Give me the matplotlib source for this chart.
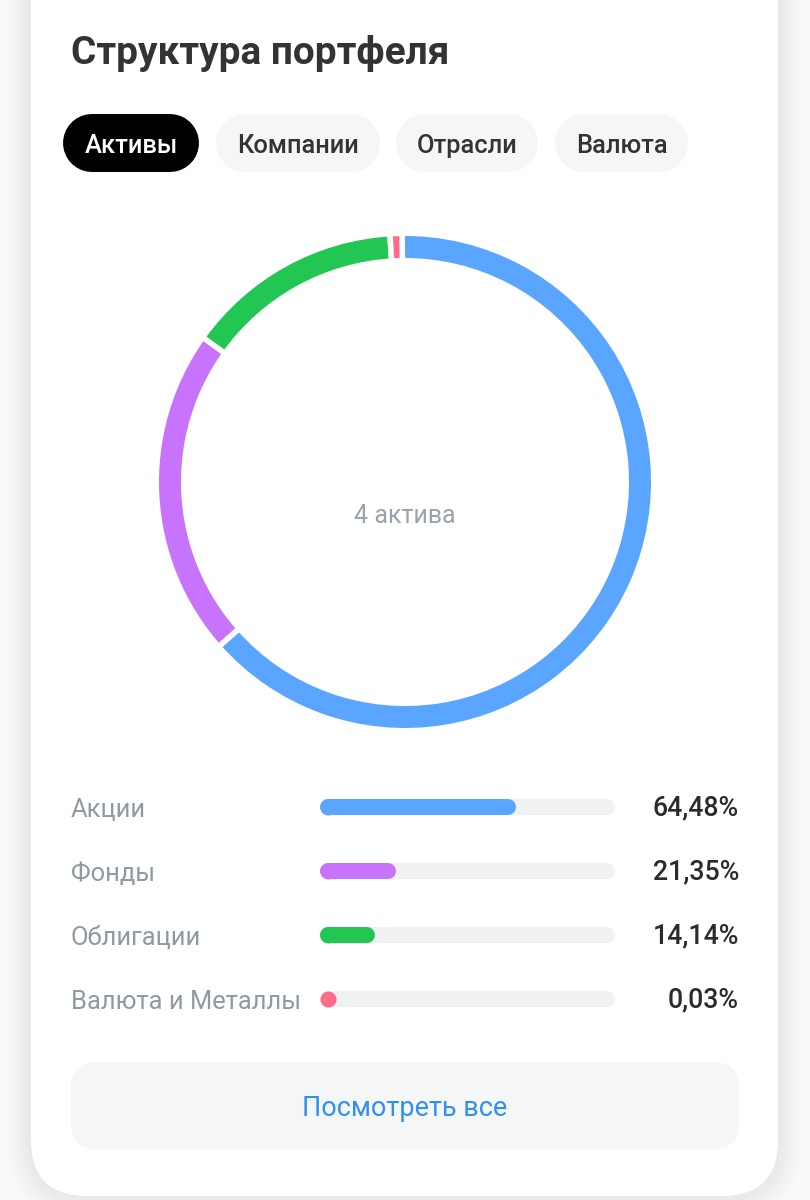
import matplotlib
matplotlib.use("Agg")
import matplotlib.pyplot as plt
from matplotlib.patches import FancyBboxPatch

# values as shown on the screen
categories = ["Акции", "Фонды", "Облигации", "Валюта и Металлы"]
shares = [64.48, 21.35, 14.14, 0.03]
# slice sizes of the ring as measured on the picture, tiny share is widened there
ring_shares = [63.67, 21.4, 14.15, 0.78]
colors = ["#5aa5ff", "#c873fc", "#22c653", "#ff6b8b"]
tabs = ["Активы", "Компании", "Отрасли", "Валюта"]
tab_edges = [(63, 199), (216, 380), (396, 538), (555, 688)]
title = "Структура портфеля"
center_label = "4 актива"
button_label = "Посмотреть все"

W, H = 810, 1200
DPI = 100
PX = 72 / DPI  # one pixel in points
FONT = "Roboto"


def rounded(ax, x0, y0, x1, y1, r, color, **kw):
    box = FancyBboxPatch((x0, y0), x1 - x0, y1 - y0,
                         boxstyle=f"round,pad=0,rounding_size={r}",
                         facecolor=color, edgecolor="none", **kw)
    ax.add_patch(box)


fig = plt.figure(figsize=(W / DPI, H / DPI), dpi=DPI, facecolor="#f9f9f9")
ax = fig.add_axes([0, 0, 1, 1])
ax.set_xlim(0, W)
ax.set_ylim(H, 0)
ax.axis("off")

# soft shadow around the card
for grow in range(24, 0, -3):
    rounded(ax, 31 - grow, -60, 778 + grow, 1196 + grow, 56 + grow, "#000000", alpha=0.007)
rounded(ax, 31, -60, 778, 1196, 56, "#ffffff")

ax.text(71, 54, title, fontsize=38.7 * PX, fontweight="bold", family=FONT,
        color="#333333", va="center", ha="left")

# tabs, thick round lines give a true pill shape
pill_h = 58
for i, (name, (x0, x1)) in enumerate(zip(tabs, tab_edges)):
    active = i == 0
    ax.plot([x0 + pill_h / 2, x1 - pill_h / 2], [143, 143],
            color="#000000" if active else "#f5f7f7",
            lw=pill_h * PX, solid_capstyle="round")
    ax.text((x0 + x1) / 2, 146, name, fontsize=25.5 * PX, fontweight="medium", family=FONT,
            color="#ffffff" if active else "#333333", va="center", ha="center")

# bars under the donut
track_x0, track_x1 = 320, 615
bar_h = 16
rows_y = [807, 871, 935, 999]
for name, val, col, y in zip(categories, shares, colors, rows_y):
    ax.plot([track_x0 + bar_h / 2, track_x1 - bar_h / 2], [y, y], color="#eff1f3",
            lw=bar_h * PX, solid_capstyle="round")
    end = track_x0 + bar_h / 2 + val / 100 * (track_x1 - track_x0 - bar_h)
    ax.plot([track_x0 + bar_h / 2, end], [y, y], color=col,
            lw=bar_h * PX, solid_capstyle="round")
    # very short lines lose their caps, so the start is a dot as well
    ax.scatter([track_x0 + bar_h / 2], [y], s=(bar_h * PX) ** 2, color=col, linewidths=0, zorder=3)
    ax.text(71, y + 3, name, fontsize=25.5 * PX, family=FONT, color="#8f99a3",
            va="center", ha="left")
    ax.text(739, y + 1, f"{val:.2f}%".replace(".", ","), fontsize=26.8 * PX, fontweight="medium",
            family=FONT, color="#2b2b2b", va="center", ha="right")

# button
rounded(ax, 71, 1062, 739, 1149, 26, "#f5f7f7")
ax.text(405, 1108, button_label, fontsize=27 * PX, family=FONT, color="#2f8ff2",
        va="center", ha="center")

# donut, axes units are pixels here
cx, cy, half = 405, 482, 252
donut = fig.add_axes([(cx - half) / W, (H - cy - half) / H, 2 * half / W, 2 * half / H])
gap = 5.5
donut.pie(ring_shares, colors=colors, startangle=90.67, counterclock=False,
          radius=246 + gap / 2,
          wedgeprops={"width": 22 + gap, "edgecolor": "#ffffff", "linewidth": gap * PX})
donut.set_xlim(-half, half)
donut.set_ylim(-half, half)
donut.set_aspect("equal")
donut.axis("off")
donut.patch.set_alpha(0)
donut.text(0, -34, center_label, fontsize=25 * PX, family=FONT, color="#9aa3ad",
           va="center", ha="center")

fig.savefig("out.png", dpi=DPI)
